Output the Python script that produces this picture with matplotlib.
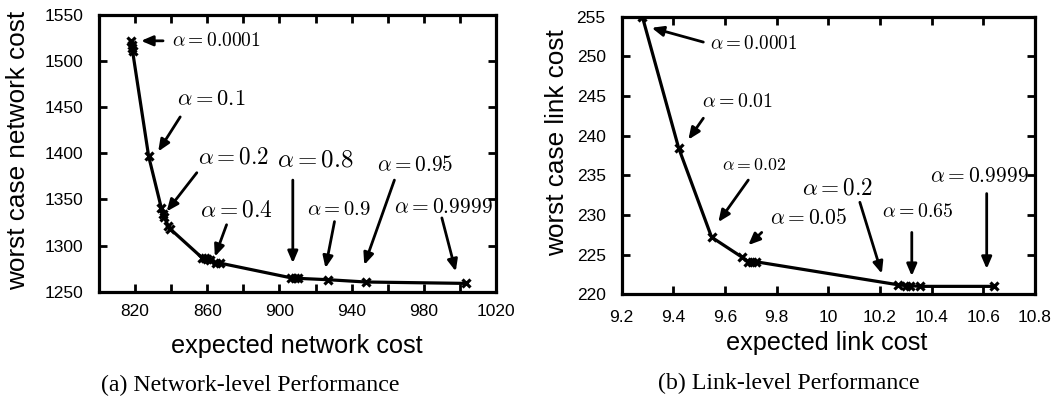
import matplotlib
matplotlib.use("Agg")
import matplotlib.pyplot as plt
from matplotlib.ticker import MultipleLocator, FixedLocator, FuncFormatter

plt.rcParams['mathtext.fontset'] = 'cm'
plt.rcParams['font.family'] = ['Liberation Sans', 'DejaVu Sans']

# ---------------- data: network level (a) ----------------
net_expected = [818.0, 818.2, 818.4, 818.6, 827.5, 834.5, 835.5, 836.0, 838.5, 839.5,
                857.0, 858.5, 860.0, 861.5, 865.0, 867.0, 906.5, 908.5, 910.0,
                927.0, 948.0, 1003.5]
net_worst = [1522, 1518, 1514, 1511, 1397, 1341, 1334, 1331, 1321, 1318,
             1287, 1286, 1285, 1284, 1281, 1281, 1265, 1265, 1264.5,
             1263, 1260.5, 1259]

net_labels = ['0.0001', '0.1', '0.2', '0.8', '0.95', '0.4', '0.9', '0.9999']
net_text_xy = [(840.4, 1522), (843, 1458), (855, 1396), (898.6, 1393), (954, 1387.5),
               (856, 1339), (915, 1339), (963.7, 1341)]
net_text_size = [14, 16.2, 16.7, 17.9, 15.3, 16.9, 14.9, 15.5]
net_arrow_tail = [(835.5, 1522), (845, 1439.5), (854.2, 1379), (907.4, 1371), (963.7, 1371),
                  (870.7, 1322.6), (930.5, 1326), (990, 1330)]
net_arrow_head = [(823.3, 1522), (832.8, 1402), (837.5, 1337), (907.4, 1281), (947, 1279),
                  (864.2, 1288), (925.5, 1275.6), (997.7, 1272)]

# ---------------- data: link level (b) ----------------
link_expected = [9.28, 9.42, 9.548, 9.665, 9.69, 9.705, 9.72, 10.27, 10.30, 10.315, 10.355, 10.64]
link_worst = [255.0, 238.5, 227.2, 224.7, 224.1, 224.1, 224.1, 221.2, 221.1, 221.1, 221.0, 221.0]

link_labels = ['0.0001', '0.01', '0.02', '0.2', '0.05', '0.65', '0.9999']
link_text_xy = [(9.54, 251.5), (9.51, 244.3), (9.59, 236.3), (9.897, 233.4), (9.774, 229.5),
                (10.207, 230.4), (10.394, 234.8)]
link_text_size = [13.8, 14.3, 12.8, 16.7, 15.5, 14.3, 15.5]
link_arrow_tail = [(9.516, 251.8), (9.516, 242.2), (9.69, 234.4), (10.122, 231.6), (9.742, 227.8),
                   (10.323, 227.8), (10.613, 232.7)]
link_arrow_head = [(9.316, 253.6), (9.458, 239.5), (9.574, 229.1), (10.207, 222.6), (9.69, 226.2),
                   (10.323, 222.3), (10.613, 223.2)]

W, H = 1057, 399
fig = plt.figure(figsize=(W / 100, H / 100), dpi=100)

ax1 = fig.add_axes([99 / W, 1 - 291.7 / H, (496 - 99) / W, (291.7 - 15) / H])
ax2 = fig.add_axes([621.7 / W, 1 - 294.3 / H, (1035 - 621.7) / W, (294.3 - 16.7) / H])


def style(ax, xpad):
    for s in ax.spines.values():
        s.set_linewidth(2.3)
    ax.tick_params(which='both', direction='in', top=True, right=True,
                   length=6, width=2, labelsize=12.5)
    ax.tick_params(axis='y', pad=11.5)
    ax.tick_params(axis='x', pad=xpad)


def draw(ax, xs, ys, labels, txy, tsz, tails, heads):
    ax.plot(xs, ys, color='black', lw=2.3, marker='x', ms=6, mew=2.3)
    for lab, (tx, ty), sz, t, h in zip(labels, txy, tsz, tails, heads):
        ax.text(tx, ty, r'$\alpha = ' + lab + '$', fontsize=sz, ha='left', va='center')
        ax.annotate('', xy=h, xytext=t,
                    arrowprops=dict(arrowstyle='-|>,head_length=0.7,head_width=0.3',
                                    color='black', lw=2, shrinkA=0, shrinkB=0))


style(ax1, 9)
draw(ax1, net_expected, net_worst, net_labels, net_text_xy, net_text_size,
     net_arrow_tail, net_arrow_head)
ax1.set_xlim(800, 1020)
ax1.set_ylim(1250, 1550)
ax1.xaxis.set_major_locator(FixedLocator([820, 860, 900, 940, 980, 1020]))
ax1.xaxis.set_minor_locator(FixedLocator([840, 880, 920, 960, 1000]))
ax1.yaxis.set_major_locator(MultipleLocator(50))

style(ax2, 11.3)
draw(ax2, link_expected, link_worst, link_labels, link_text_xy, link_text_size,
     link_arrow_tail, link_arrow_head)
ax2.set_xlim(9.2, 10.8)
ax2.set_ylim(220, 255)
ax2.xaxis.set_major_locator(FixedLocator([9.2, 9.4, 9.6, 9.8, 10.0, 10.2, 10.4, 10.6, 10.8]))
ax2.xaxis.set_major_formatter(FuncFormatter(lambda v, p: '%g' % round(v, 1)))
ax2.yaxis.set_major_locator(MultipleLocator(5))

# axis titles
fig.text(297 / W, 1 - 353 / H, 'expected network cost', fontsize=18.2, ha='center', va='baseline')
fig.text(827 / W, 1 - 350 / H, 'expected link cost', fontsize=18.2, ha='center', va='baseline')
fig.text(18.3 / W, 1 - 150 / H, 'worst case network cost', fontsize=18.8, rotation=90,
         ha='center', va='center')
fig.text(556.7 / W, 1 - 142.5 / H, 'worst case link cost', fontsize=18.8, rotation=90,
         ha='center', va='center')

fig.text(250 / W, 1 - 385 / H, '(a) Network-level Performance', fontsize=17.2,
         family='Liberation Serif', ha='center', va='center')
fig.text(789 / W, 1 - 383 / H, '(b) Link-level Performance', fontsize=17.2,
         family='Liberation Serif', ha='center', va='center')

fig.savefig('out.png', dpi=100)
